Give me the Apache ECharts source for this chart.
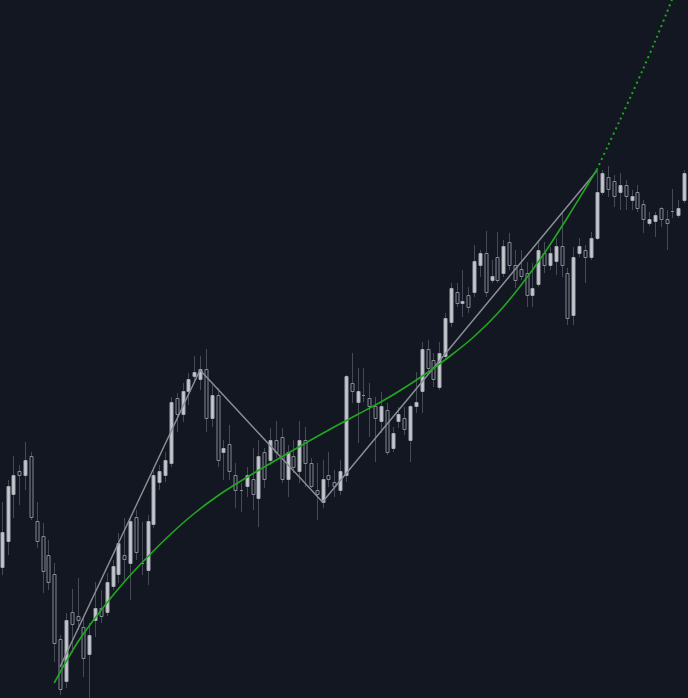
<!DOCTYPE html>
<html>
<head>
<meta charset="utf-8">
<script src="https://cdn.jsdelivr.net/npm/echarts@6/dist/echarts.min.js"></script>
<style>
html,body{margin:0;padding:0;background:#131722;}
#chart{width:688px;height:698px;}
</style>
</head>
<body>
<div id="chart"></div>
<script>
// Candle data (index 0..118)
const opens = [131,157,204,227,223,242,177,162,143,124, 59,17,86,82,71,44,78,90,86,112, 124,143,135,181,135,128,174,216,223,235, 300,284,307,322,319,329,280,303,246,254, 223,208,212,219,200,246,238,258,261,219, 242,227,258,235,208,196,223,216,208,223, 315,296,303,300,292,277,288,250,277,280, 258,292,307,349,338,311,342,376,406,395, 403,406,433,445,418,441,425,456,433,429, 425,403,414,445,433,437,452,425,383,445, 448,441,460,506,521,517,506,513,498,506, 494,475,477,490,479,487,483,498,521];
const closes = [166,212,223,223,238,181,157,127,116,55, 9,78,74,78,40,63,90,82,116,132, 155,139,177,146,135,177,223,227,238,296, 284,307,319,326,329,280,303,238,250,227, 208,208,223,204,242,219,258,246,219,246, 231,258,235,212,204,219,219,212,227,322, 307,307,303,292,280,292,246,265,284,269, 292,296,349,330,319,345,380,410,395,397, 391,437,445,406,422,418,452,433,418,422, 403,410,448,433,445,452,433,380,441,452, 441,460,506,525,509,502,513,502,502,490, 479,479,483,479,475,487,490,525,508];
const highs = [196,218,242,233,256,246,196,175,158,135, 63,85,109,120,81,75,116,108,125,138, 165,180,181,188,176,183,228,233,246,301, 305,315,325,342,342,349,313,310,258,273, 235,215,231,250,258,250,270,277,270,253, 258,277,271,240,235,238,246,228,238,323, 345,330,330,315,301,306,295,271,291,291, 293,326,356,358,345,356,385,415,415,428, 411,453,448,467,438,466,458,465,448,448, 436,435,458,456,451,460,485,430,451,460, 453,466,528,528,532,523,525,518,508,513, 498,486,486,491,488,509,498,528,528];
const lows = [123,143,180,193,208,178,150,105,108,36, 3,10,45,68,21,0,61,75,82,108, 115,118,98,138,123,113,170,208,216,231, 266,276,293,316,308,266,271,231,218,218, 190,186,201,188,171,210,233,240,215,201, 225,215,211,210,178,190,211,201,203,216, 295,255,296,261,236,265,243,246,270,263, 236,285,285,326,311,308,338,371,391,381, 385,401,421,401,415,415,421,428,410,418, 391,391,411,425,428,423,421,373,373,441, 415,438,458,503,501,491,488,488,488,486, 465,472,461,471,448,480,480,495,503];

// Zigzag vertices
const zigzagIdx = [10, 34, 55, 102];
const zigzagVal = [31, 328, 196, 527];

// Green regression curve (solid) and projection (dotted)
const trendIdx = [9,13,17,21,25,29,33,37,41,45,49,53,57,61,65,69,73,77,81,85,89,93,97,101,102];
const trendVal = [15,55.5,87.5,116,141,164,184.5,202,217,231,244.5,258,271,283.5,296,310,325.5,342.5,361.5,384.5,412.5,444.5,480.5,518.5,528];
const projIdx = [102,104,106,108,110,112,114,116];
const projVal = [528,553,578,603.5,629.5,656.5,685,715];

const BG = '#131722';
const candleData = opens.map((o, i) => [i, o, closes[i], lows[i], highs[i]]);

const chart = echarts.init(document.getElementById('chart'), null, {renderer: 'canvas'});
chart.setOption({
  backgroundColor: BG,
  animation: false,
  grid: {left: 0, right: 0, top: 0, bottom: 0},
  xAxis: {type: 'value', min: -0.2914, max: 117.66, show: false, splitLine: {show: false}},
  yAxis: {type: 'value', min: 0, max: 698, show: false, splitLine: {show: false}},
  series: [
    {
      type: 'custom',
      data: candleData,
      encode: {x: 0, y: [1, 2, 3, 4]},
      clip: true,
      renderItem: function (params, api) {
        const i = api.value(0), o = api.value(1), c = api.value(2), l = api.value(3), h = api.value(4);
        const pO = api.coord([i, o]);
        const pC = api.coord([i, c]);
        const pL = api.coord([i, l]);
        const pH = api.coord([i, h]);
        const up = c > o;
        const cx = Math.round(pO[0]) + 0.5;
        const top = Math.round(Math.min(pO[1], pC[1])) + 0.5;
        const bot = Math.round(Math.max(pO[1], pC[1])) + 0.5;
        const w = 3;
        return {
          type: 'group',
          children: [
            {type: 'line', shape: {x1: cx, y1: Math.round(pH[1]), x2: cx, y2: Math.round(pL[1])},
             style: {stroke: '#464a56', lineWidth: 1}},
            {type: 'rect', shape: {x: cx - 1.5, y: top, width: w, height: Math.max(bot - top, 0)},
             style: {fill: up ? '#c7c9d0' : BG, stroke: up ? '#a3a6ae' : '#868994', lineWidth: 1}}
          ]
        };
      },
      z: 1
    },
    {
      type: 'line',
      data: zigzagIdx.map((v, k) => [v, zigzagVal[k]]),
      symbol: 'none',
      lineStyle: {color: '#8a8d96', width: 1.5},
      z: 2
    },
    {
      type: 'line',
      data: trendIdx.map((v, k) => [v, trendVal[k]]),
      symbol: 'none',
      smooth: 0.3,
      lineStyle: {color: '#1fa81f', width: 1.6},
      z: 3
    },
    {
      type: 'line',
      data: projIdx.map((v, k) => [v, projVal[k]]),
      symbol: 'none',
      smooth: 0.3,
      lineStyle: {color: '#1fa81f', width: 2, type: [2, 3.6]},
      z: 3
    }
  ]
});
</script>
</body>
</html>
